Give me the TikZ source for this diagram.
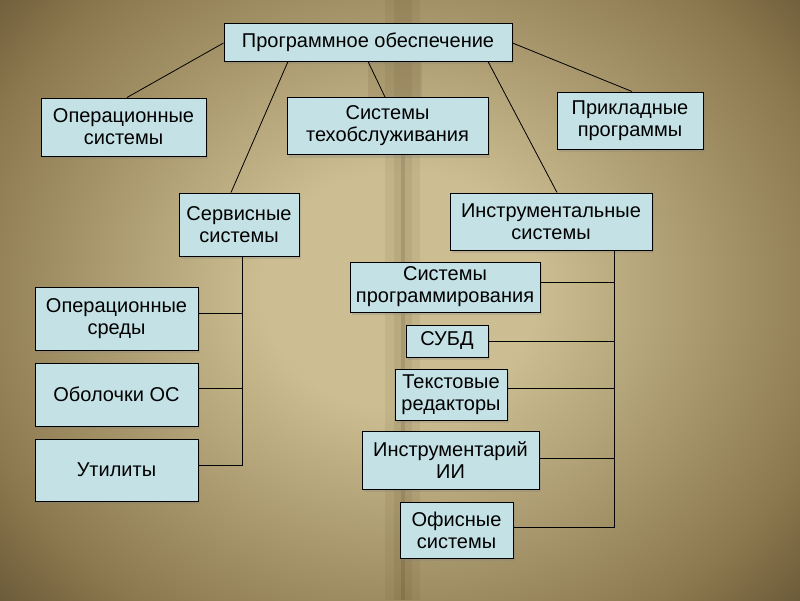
\documentclass[tikz,border=0pt]{standalone}
\usepackage{fontspec}
\setmainfont{Liberation Sans}
\usetikzlibrary{calc,shadows}
\definecolor{bgl}{RGB}{204,190,146}
\definecolor{bgm}{RGB}{140,120,78}
\definecolor{bgd}{RGB}{45,33,18}
\definecolor{fold}{RGB}{70,50,22}
\definecolor{boxfill}{RGB}{196,226,230}
\pgfdeclareradialshading{bgshade}{\pgfpoint{0bp}{0bp}}{color(0bp)=(bgl); color(8bp)=(bgl); color(26bp)=(bgm); color(42bp)=(bgd); color(50bp)=(bgd)}
\tikzset{
  box/.style={draw=black, line width=1pt, fill=boxfill, align=center, inner sep=0pt,
    font=\fontsize{20pt}{22pt}\selectfont, text=black,
    drop shadow={opacity=0.25, shadow xshift=2pt, shadow yshift=-3pt}},
  conn/.style={draw=black, line width=0.8pt}
}
\begin{document}
\begin{tikzpicture}[x=1pt,y=-1pt]
\useasboundingbox (0,0) rectangle (800,600);
\begin{scope}
\clip (0,0) rectangle (800,600);
\shade[shading=bgshade] (-30,-80) rectangle (830,660);
\fill[fold, opacity=0.07] (385,0) rectangle (420,600);
\fill[fold, opacity=0.08] (394,0) rectangle (412,600);
\fill[fold, opacity=0.14] (401,150) rectangle (405,600);
\fill[fold, opacity=0.10] (368,55) rectangle (422,125);
\end{scope}

\node[box, minimum width=288, minimum height=38] (top) at (368,42) {Программное обеспечение};
\node[box, minimum width=165, minimum height=58] (os) at (123.5,127) {Операционные\\системы};
\node[box, minimum width=201, minimum height=57] (tech) at (387.5,126) {Системы\\техобслуживания};
\node[box, minimum width=146, minimum height=57] (app) at (630,120.5) {Прикладные\\программы};
\node[box, minimum width=120, minimum height=63] (serv) at (239,224.5) {Сервисные\\системы};
\node[box, minimum width=202, minimum height=57] (instr) at (551,221.5) {Инструментальные\\системы};
\node[box, minimum width=190, minimum height=50] (prog) at (445,287) {Системы\\программирования};
\node[box, minimum width=82, minimum height=32] (subd) at (447,341) {СУБД};
\node[box, minimum width=112, minimum height=51] (txt) at (451,394.5) {Текстовые\\редакторы};
\node[box, minimum width=177, minimum height=58] (ai) at (450.5,460) {Инструментарий\\ИИ};
\node[box, minimum width=113, minimum height=56] (office) at (456.5,530) {Офисные\\системы};
\node[box, minimum width=163, minimum height=63] (env) at (116.5,318.5) {Операционные\\среды};
\node[box, minimum width=163, minimum height=63] (shell) at (116.5,394.5) {Оболочки ОС};
\node[box, minimum width=163, minimum height=62] (util) at (116.5,470) {Утилиты};

% top connectors
\draw[conn] ([yshift=-1pt]top.west) -- ([xshift=3.5pt]os.north);
\draw[conn] ([yshift=-1pt]top.east) -- ([xshift=2pt]app.north);
\draw[conn] ([xshift=-80pt]top.south) -- ([xshift=-8pt]serv.north);
\draw[conn] (top.south) -- ([xshift=-2.5pt]tech.north);
\draw[conn] ([xshift=120pt]top.south) -- ([xshift=6pt]instr.north);

% service bracket
\coordinate (sb) at ([xshift=3pt]serv.south);
\draw[conn] (sb) |- ([yshift=5pt]util.east);
\draw[conn] ([yshift=5pt]env.east) -- ([yshift=5pt]env.east -| sb);
\draw[conn] ([yshift=6pt]shell.east) -- ([yshift=6pt]shell.east -| sb);

% instrumental bracket
\coordinate (ib) at ([xshift=63pt]instr.south);
\draw[conn] (ib) |- ([yshift=3pt]office.east);
\draw[conn] ([yshift=5pt]prog.east) -- ([yshift=5pt]prog.east -| ib);
\draw[conn] (subd.east) -- (subd.east -| ib);
\draw[conn] ([yshift=6pt]txt.east) -- ([yshift=6pt]txt.east -| ib);
\draw[conn] ([yshift=2pt]ai.east) -- ([yshift=2pt]ai.east -| ib);
\end{tikzpicture}
\end{document}
